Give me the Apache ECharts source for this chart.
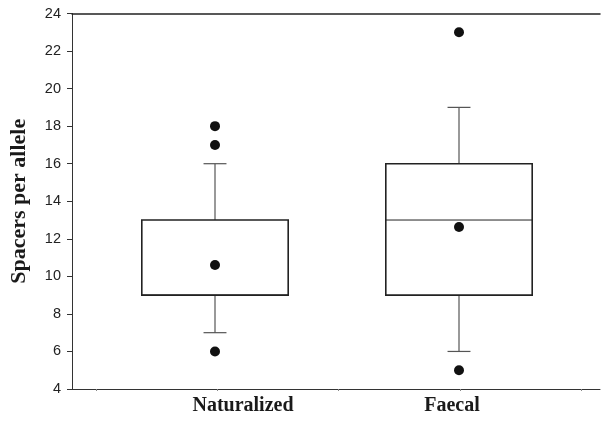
<!DOCTYPE html>
<html>
<head>
<meta charset="utf-8">
<script src="https://cdn.jsdelivr.net/npm/echarts@6/dist/echarts.min.js"></script>
<style>html,body{margin:0;padding:0;background:#fff}#c{width:602px;height:426px}</style>
</head>
<body>
<div id="c"></div>
<script>
const categories = ['Naturalized', 'Faecal'];
const lowWhisker = [7, 6];
const q1 = [9, 9];
const median = [9, 13];
const q3 = [13, 16];
const highWhisker = [16, 19];
const means = [10.6, 12.63];
const outliersNaturalized = [18, 17, 6];
const outliersFaecal = [23, 5];
const yTicks = [4, 6, 8, 10, 12, 14, 16, 18, 20, 22, 24];

const boxData = categories.map((c, i) => [i, lowWhisker[i], q1[i], median[i], q3[i], highWhisker[i]]);
const dotData = [];
means.forEach((m, i) => dotData.push([i, m]));
outliersNaturalized.forEach(v => dotData.push([0, v]));
outliersFaecal.forEach(v => dotData.push([1, v]));

const chart = echarts.init(document.getElementById('c'), null, {renderer: 'canvas'});

function renderBox(params, api) {
  const x = api.value(0);
  const band = api.size([1, 0])[0];
  const hw = band * 0.3;
  const cw = band * 0.047;
  const pLow = api.coord([x, api.value(1)]);
  const pQ1 = api.coord([x, api.value(2)]);
  const pMed = api.coord([x, api.value(3)]);
  const pQ3 = api.coord([x, api.value(4)]);
  const pHigh = api.coord([x, api.value(5)]);
  const cx = pQ1[0];
  const whisk = {stroke: '#555', lineWidth: 1.2};
  return {
    type: 'group',
    children: [
      {type: 'line', shape: {x1: cx, y1: pQ3[1], x2: cx, y2: pHigh[1]}, style: whisk},
      {type: 'line', shape: {x1: cx, y1: pQ1[1], x2: cx, y2: pLow[1]}, style: whisk},
      {type: 'line', shape: {x1: cx - cw, y1: pHigh[1], x2: cx + cw, y2: pHigh[1]}, style: whisk},
      {type: 'line', shape: {x1: cx - cw, y1: pLow[1], x2: cx + cw, y2: pLow[1]}, style: whisk},
      {type: 'line', shape: {x1: cx - hw, y1: pMed[1], x2: cx + hw, y2: pMed[1]}, style: {stroke: '#222', lineWidth: 1}},
      {type: 'rect', shape: {x: cx - hw, y: pQ3[1], width: 2 * hw, height: pQ1[1] - pQ3[1]},
        style: {fill: 'none', stroke: '#222', lineWidth: 1.6}}
    ]
  };
}

const labelFont = {fontFamily: 'Liberation Serif', fontWeight: 'bold', fontSize: 20, color: '#1a1a1a'};
const bandLeft = 93, bandRight = 602 - 581;
const option = {
  animation: false,
  backgroundColor: '#fff',
  grid: [
    {left: bandLeft, right: bandRight, top: 13.5, bottom: 37},
    {left: 69, right: 2, top: 13.5, bottom: 37}
  ],
  xAxis: [
    {
      gridIndex: 0, type: 'category', data: categories, boundaryGap: true,
      axisLine: {show: false}, axisTick: {show: false},
      axisLabel: Object.assign({
        margin: 7,
        formatter: (v, i) => (i === 0 ? '{a|' + v + '}' : '{b|' + v + '}'),
        rich: {
          a: Object.assign({padding: [0, 0, 0, 56]}, labelFont),
          b: Object.assign({padding: [0, 14, 0, 0]}, labelFont)
        }
      }, labelFont)
    },
    {
      gridIndex: 1, type: 'value', min: 1 - (215 - 69) / 244, max: 2 + (600 - 459) / 244,
      axisLine: {show: true, lineStyle: {color: '#333', width: 1}},
      axisTick: {show: true, customValues: [0.5, 1, 1.5, 2, 2.5], length: 2, lineStyle: {color: '#888'}},
      axisLabel: {show: false}, splitLine: {show: false}
    },
    {
      gridIndex: 1, type: 'value', position: 'top', min: 0, max: 1,
      axisLine: {show: true, lineStyle: {color: '#222', width: 1.5}},
      axisTick: {show: false}, axisLabel: {show: false}, splitLine: {show: false}
    }
  ],
  yAxis: [
    {
      gridIndex: 0, type: 'value', min: 4, max: 24, interval: 2,
      show: false, splitLine: {show: false}
    },
    {
      gridIndex: 1, type: 'value', min: 4, max: 24, interval: 2,
      name: 'Spacers per allele', nameLocation: 'middle', nameGap: 42,
      nameTextStyle: {fontFamily: 'Liberation Serif', fontWeight: 'bold', fontSize: 22, color: '#1a1a1a'},
      axisLine: {show: true, lineStyle: {color: '#333', width: 1}},
      axisTick: {show: true, length: 5, lineStyle: {color: '#333'}},
      axisLabel: {margin: 11, fontFamily: 'Liberation Sans', fontSize: 14.5, color: '#222',
        customValues: yTicks},
      splitLine: {show: false}
    }
  ],
  series: [
    {
      type: 'custom', xAxisIndex: 0, yAxisIndex: 0, renderItem: renderBox,
      encode: {x: 0, y: [1, 2, 3, 4, 5]}, data: boxData, z: 2
    },
    {
      type: 'scatter', xAxisIndex: 0, yAxisIndex: 0, data: dotData,
      symbol: 'circle', symbolSize: 10, itemStyle: {color: '#111', opacity: 1}, z: 3
    }
  ]
};
chart.setOption(option);
</script>
</body>
</html>
